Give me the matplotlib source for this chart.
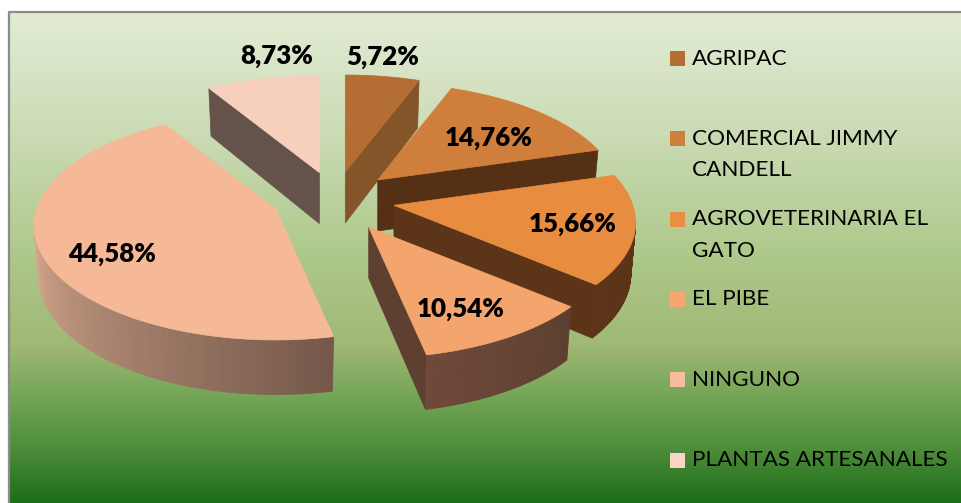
import numpy as np
import matplotlib
matplotlib.use('Agg')
import matplotlib.pyplot as plt
from matplotlib.colors import LinearSegmentedColormap, to_rgb

labels = ['AGRIPAC', 'COMERCIAL JIMMY\nCANDELL', 'AGROVETERINARIA EL\nGATO',
          'EL PIBE', 'NINGUNO', 'PLANTAS ARTESANALES']
values = [5.72, 14.76, 15.66, 10.54, 44.58, 8.73]
value_text = ['5,72%', '14,76%', '15,66%', '10,54%', '44,58%', '8,73%']

top_colors = ['#b46e34', '#cf7f3b', '#e88d40', '#f4a46d', '#f5b998', '#f6d0bd']
legend_colors = ['#b36d35', '#ce7f3c', '#ea8f42', '#f5a76f', '#f7bba0', '#fad5c5']
edge_colors = ['#85552a', '#553015', '#5c3519', '#5f4030', '#5f4030', '#65524a']
arc_colors = [None, None, ('#5c3519', '#5c3519'), ('#5c3f30', '#70493a'),
              ('#75584a', '#d8aa90'), None]

# pixel placement of the pie and its labels
label_pos = [(383, 57), (489, 138), (573, 224), (461, 309), (112, 254), (277, 56)]
center = (335, 199.5)
nudge = [(0, -1), (0, -1), (0, 0), (2, 3), (-3, -1), (0, -1)]
explode = 0.25
rx, ry, persp = 239, 111.5, 0.149


def plane(theta):
    # projected offset from a slice's tip, theta clockwise from the top
    u, v = np.sin(theta), np.cos(theta)
    w = 1 + persp * v
    return rx * u / w, -ry * v / w


def depth(theta):
    return 51 * (1 - 0.07 * np.cos(theta))


fig = plt.figure(figsize=(9.61, 5.03), dpi=100)
ax = fig.add_axes([0, 0, 1, 1])
ax.set_xlim(0, 961)
ax.set_ylim(503, 0)
ax.axis('off')

# background panel
bg = LinearSegmentedColormap.from_list('bg', [
    (0.0, '#e2ecd5'), (0.25, '#cbdbb4'), (0.5, '#aec88a'),
    (0.68, '#9fb875'), (0.8, '#6ea252'), (0.9, '#4a8a38'), (1.0, '#1c6e17')])
ax.imshow(np.linspace(0, 1, 256).reshape(-1, 1), cmap=bg, aspect='auto',
          extent=(9, 961, 503, 12), zorder=0)
ax.plot([9, 9, 961], [503, 12, 12], color='#8c8c8c', lw=1.6, zorder=1)
ax.set_xlim(0, 961)
ax.set_ylim(503, 0)

# slices, back to front
angles = np.r_[0, np.cumsum(values)] / sum(values) * 2 * np.pi
order = [5, 0, 1, 2, 3, 4]
for i in order:
    a0, a1 = angles[i], angles[i + 1]
    mid = (a0 + a1) / 2
    tip_w = 1 + persp * explode * np.cos(mid)
    tx = center[0] + rx * explode * np.sin(mid) / tip_w + nudge[i][0]
    ty = center[1] - ry * explode * np.cos(mid) / tip_w + nudge[i][1]
    mx, my = plane(mid)

    # cut faces, only the ones that hang in front of the top face
    for a in (a0, a1):
        ex, ey = plane(a)
        if ex * (ex * my - ey * mx) < 0:
            ax.fill([tx, tx + ex, tx + 0.98 * ex, tx],
                    [ty, ty + ey, ty + ey + depth(a), ty + 51],
                    color=edge_colors[i], lw=0.5, zorder=2)

    # outer wall, on the front part of the rim
    lo, hi = max(a0, np.radians(98.6)), min(a1, np.radians(261.4))
    if arc_colors[i] is not None and hi > lo:
        steps = np.linspace(lo, hi, 60)
        c0, c1 = np.array(to_rgb(arc_colors[i][0])), np.array(to_rgb(arc_colors[i][1]))
        for s0, s1 in zip(steps[:-1], steps[1:]):
            x0, y0 = plane(s0)
            x1, y1 = plane(s1)
            f = (s0 - lo) / (hi - lo)
            ax.fill([tx + x0, tx + x1, tx + 0.98 * x1, tx + 0.98 * x0],
                    [ty + y0, ty + y1, ty + y1 + depth(s1), ty + y0 + depth(s0)],
                    color=c0 + (c1 - c0) * f, lw=0.6, zorder=2)

    # top face
    th = np.linspace(a0, a1, 80)
    px, py = plane(th)
    ax.fill(np.r_[tx, tx + px], np.r_[ty, ty + py], color=top_colors[i], lw=0.5, zorder=3)

for txt, (lx, ly) in zip(value_text, label_pos):
    ax.text(lx, ly, txt, family='Lato', weight='heavy', fontsize=18.6,
            ha='center', va='center', color='black', zorder=5)

# legend
for i, (lab, col) in enumerate(zip(labels, legend_colors)):
    y = 58.5 + i * 80.3
    ax.fill([670, 685, 685, 670], [y - 7.5, y - 7.5, y + 7.5, y + 7.5], color=col, lw=0, zorder=4)
    ax.text(692, y - 10, lab, family='Lato', fontsize=16.2, ha='left', va='top',
            linespacing=1.72, color='black', zorder=5)

fig.savefig('out.png', dpi=100)
